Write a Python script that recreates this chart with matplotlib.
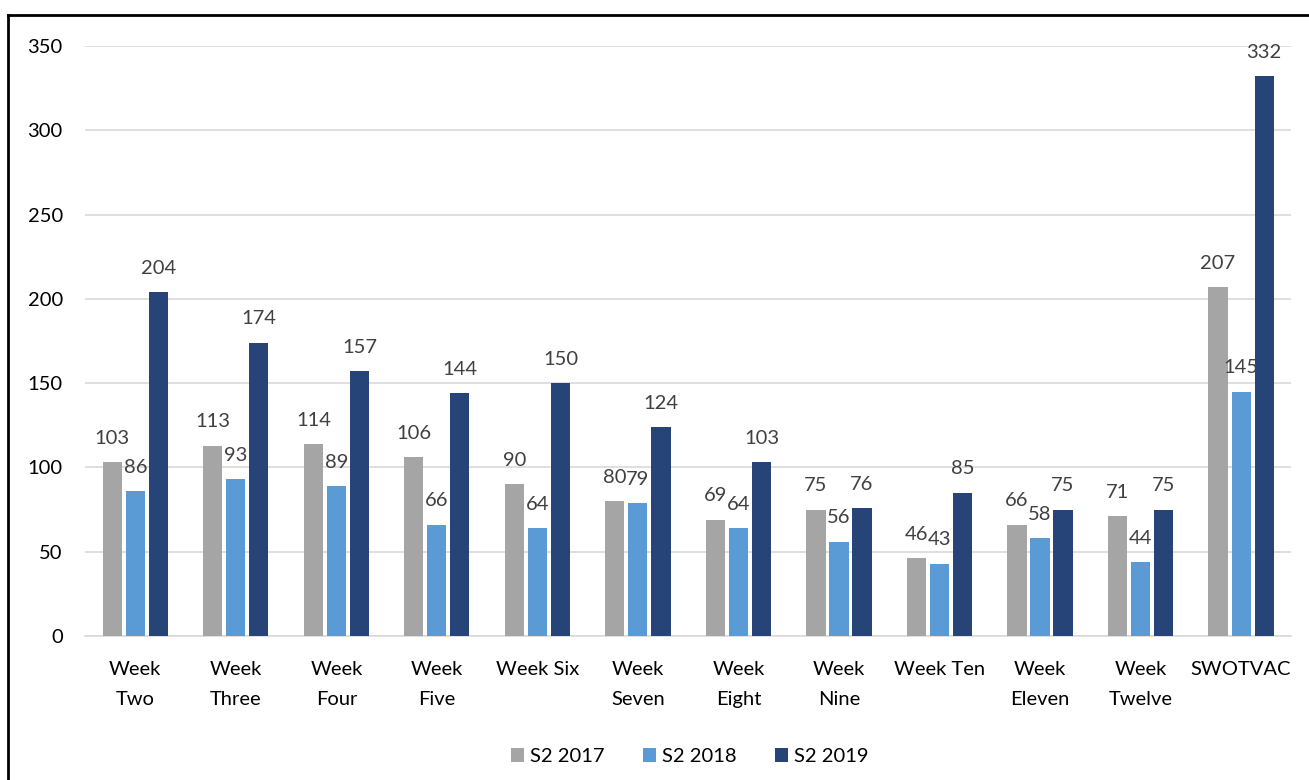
import numpy as np
import matplotlib.pyplot as plt
from matplotlib.lines import Line2D

plt.rcParams['font.family'] = ['Lato', 'DejaVu Sans']

categories = ['Week\nTwo', 'Week\nThree', 'Week\nFour', 'Week\nFive', 'Week Six',
              'Week\nSeven', 'Week\nEight', 'Week\nNine', 'Week Ten', 'Week\nEleven',
              'Week\nTwelve', 'SWOTVAC']
s2_2017 = [103, 113, 114, 106, 90, 80, 69, 75, 46, 66, 71, 207]
s2_2018 = [86, 93, 89, 66, 64, 79, 64, 56, 43, 58, 44, 145]
s2_2019 = [204, 174, 157, 144, 150, 124, 103, 76, 85, 75, 75, 332]
series = [('S2 2017', s2_2017, '#A5A5A5'),
          ('S2 2018', s2_2018, '#5B9BD5'),
          ('S2 2019', s2_2019, '#264478')]

fig = plt.figure(figsize=(13.09, 7.8), dpi=100)
ax = fig.add_axes([0.065, 0.1846, 0.9215, 0.7564])

x = np.arange(len(categories))
step = 0.229
width = 0.19
for i, (name, vals, col) in enumerate(series):
    pos = x + (i - 1) * step
    ax.bar(pos, vals, width, color=col, label=name, zorder=3)
    for px, v in zip(pos, vals):
        ax.annotate(str(v), (px, v), xytext=(0, 11), textcoords='offset points',
                    ha='center', va='bottom', fontsize=14.5, color='#404040')

ax.set_xlim(-0.5, len(categories) - 0.5)
ax.set_ylim(0, 350)
ax.set_yticks(np.arange(0, 351, 50))
ax.grid(axis='y', color='#D9D9D9', linewidth=1.2, zorder=0)
for s in ['top', 'right', 'left']:
    ax.spines[s].set_visible(False)
ax.spines['bottom'].set_color('#D9D9D9')
ax.spines['bottom'].set_linewidth(1.2)
ax.tick_params(length=0, labelsize=14.5, colors='#000000')
ax.tick_params(axis='y', pad=16)
ax.tick_params(axis='x', pad=18)
ax.set_xticks(x)
ax.set_xticklabels(categories, linespacing=1.9, va='top')

fig.legend(loc='center', bbox_to_anchor=(0.527, 0.03), ncol=3, frameon=False,
           fontsize=14.5, handlelength=0.65, handleheight=0.65, columnspacing=1.9,
           handletextpad=0.3)

# outer chart border (cut off on the right and bottom)
fig.add_artist(Line2D([0.0061, 1.0], [0.981, 0.981], color='black', linewidth=2,
                      transform=fig.transFigure))
fig.add_artist(Line2D([0.0061, 0.0061], [0.0, 0.981], color='black', linewidth=2,
                      transform=fig.transFigure))

fig.savefig('out.png', dpi=100)
